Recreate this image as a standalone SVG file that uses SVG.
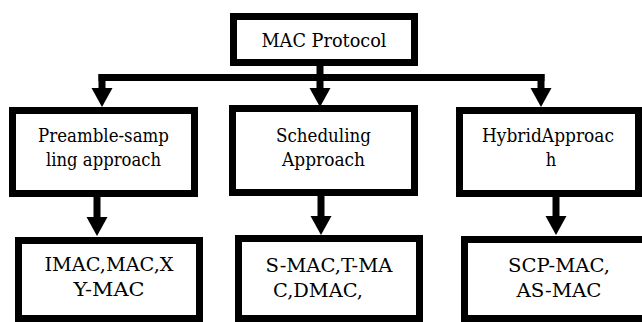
<svg xmlns="http://www.w3.org/2000/svg" width="642" height="322" viewBox="0 0 642 322">
<style>
.box{fill:#fff;stroke:#000;stroke-width:7}
.t{font-family:'DejaVu Serif','Liberation Serif',serif;font-size:19px;fill:#000;text-anchor:middle}
.c{fill:none;stroke:#000;stroke-width:7}
.a{marker-end:url(#ah)}
</style>
<defs>
<marker id="ah" markerUnits="userSpaceOnUse" markerWidth="20" markerHeight="21" refX="0" refY="10.5" orient="auto" overflow="visible">
<path d="M0,0 L19,10.5 L0,21 z" fill="#000"/>
</marker>
</defs>
<g id="connectors">
<path class="c a" d="M320,66 V88"/>
<path class="c" d="M98.5,77.5 H544.5"/>
<path class="c a" d="M102,74 V88"/>
<path class="c a" d="M541,74 V88"/>
<path class="c a" d="M97,197 V217"/>
<path class="c a" d="M321,196 V216"/>
<path class="c a" d="M556,197 V216"/>
</g>
<g id="mac-protocol">
<rect class="box" x="233.5" y="16.5" width="181" height="46"/>
<text class="t" x="324" y="47" textLength="125" lengthAdjust="spacingAndGlyphs">MAC Protocol</text>
</g>
<g id="preamble">
<rect class="box" x="12.5" y="110.5" width="182" height="83"/>
<text class="t" x="103.5" y="142" textLength="131" lengthAdjust="spacingAndGlyphs">Preamble-samp</text>
<text class="t" x="103.5" y="166" textLength="115" lengthAdjust="spacingAndGlyphs">ling approach</text>
</g>
<g id="scheduling">
<rect class="box" x="232.5" y="108.5" width="182" height="84"/>
<text class="t" x="323.5" y="142" textLength="95" lengthAdjust="spacingAndGlyphs">Scheduling</text>
<text class="t" x="323.5" y="166" textLength="83" lengthAdjust="spacingAndGlyphs">Approach</text>
</g>
<g id="hybrid">
<rect class="box" x="459.5" y="110.5" width="179" height="83"/>
<text class="t" x="548" y="142" textLength="132" lengthAdjust="spacingAndGlyphs">HybridApproac</text>
<text class="t" x="551" y="166" textLength="10.5" lengthAdjust="spacingAndGlyphs">h</text>
</g>
<g id="imac">
<rect class="box" x="18.5" y="240.5" width="181" height="78"/>
<text class="t" x="109" y="271" textLength="129" lengthAdjust="spacingAndGlyphs">IMAC,MAC,X</text>
<text class="t" x="109" y="296" textLength="71" lengthAdjust="spacingAndGlyphs">Y-MAC</text>
</g>
<g id="smac">
<rect class="box" x="238.5" y="238.5" width="181" height="80"/>
<text class="t" x="329" y="272" textLength="127" lengthAdjust="spacingAndGlyphs">S-MAC,T-MA</text>
<text class="t" x="318" y="297" textLength="90" lengthAdjust="spacingAndGlyphs">C,DMAC,</text>
</g>
<g id="scpmac">
<rect class="box" x="464.5" y="239.5" width="200" height="79"/>
<text class="t" x="559" y="272" textLength="102" lengthAdjust="spacingAndGlyphs">SCP-MAC,</text>
<text class="t" x="559" y="297" textLength="85" lengthAdjust="spacingAndGlyphs">AS-MAC</text>
</g>
</svg>
